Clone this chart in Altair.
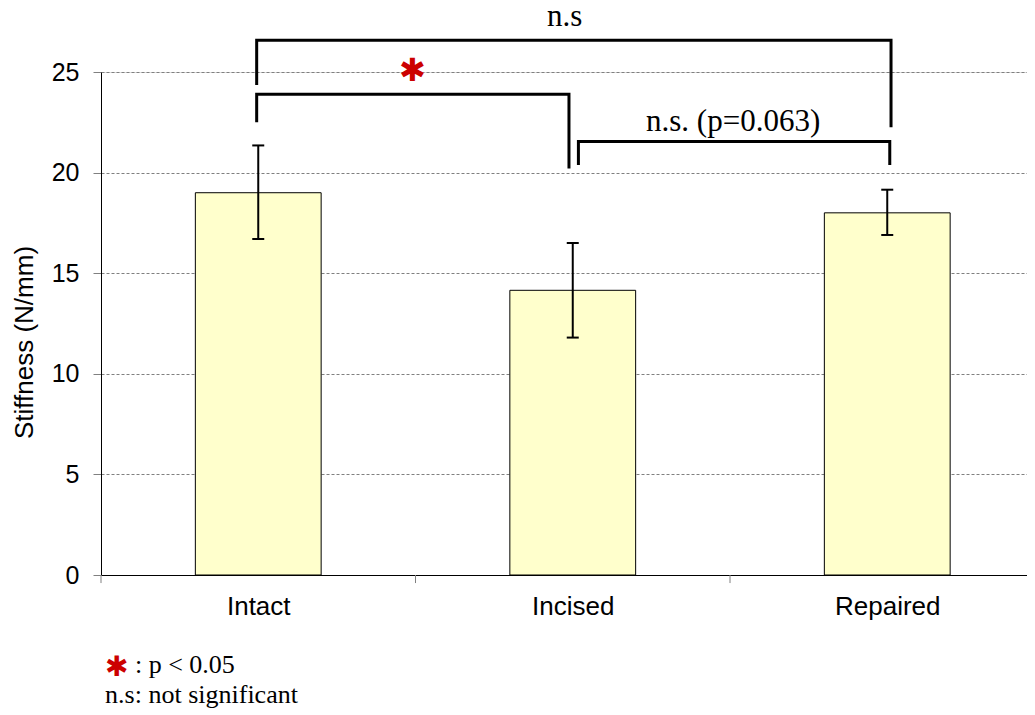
import altair as alt
import pandas as pd

# ---- data ----
groups = ["Intact", "Incised", "Repaired"]
group_pos = [0.5, 1.5, 2.5]
means = [19.0, 14.15, 18.0]
err_low = [16.7, 11.8, 16.9]
err_high = [21.35, 16.5, 19.15]

bar_half = 0.2

# brackets
br_ids = ["all", "all", "all", "all",
          "star", "star", "star", "star",
          "p063", "p063", "p063", "p063"]
br_order = [0, 1, 2, 3] * 3
br_x = [0.495, 0.495, 2.512, 2.512,
        0.495, 0.495, 1.488, 1.488,
        1.518, 1.518, 2.508, 2.508]
br_y = [24.35, 26.58, 26.58, 22.25,
        22.5, 23.9, 23.9, 20.2,
        20.38, 21.55, 21.55, 20.38]

ann_text = ["n.s", "n.s. (p=0.063)"]
ann_x = [1.474, 2.01]
ann_y = [27.3, 22.05]

star_x = [0.99]
star_y = [25.07]

foot_star_x = [0.05]
foot_star_y = [-4.6]
foot_text = [": p < 0.05", "n.s: not significant"]
foot_x = [0.108, 0.013]
foot_y = [-4.85, -6.38]

axis_tick_x = [0, 1, 2]

# ---- tables ----
bars = pd.DataFrame({"g": groups, "c": group_pos, "m": means,
                     "lo": err_low, "hi": err_high})
bars["x1"] = bars["c"] - bar_half
bars["x2"] = bars["c"] + bar_half
caps = pd.DataFrame({"c": group_pos * 2, "v": err_low + err_high})
brk = pd.DataFrame({"id": br_ids, "o": br_order, "x": br_x, "y": br_y})
ann = pd.DataFrame({"t": ann_text, "x": ann_x, "y": ann_y})
star = pd.DataFrame({"x": star_x, "y": star_y})
fstar = pd.DataFrame({"x": foot_star_x, "y": foot_star_y})
foot = pd.DataFrame({"t": foot_text, "x": foot_x, "y": foot_y})
ticks = pd.DataFrame({"x": axis_tick_x})

PLOT_W = 926
xs = alt.Scale(domain=[0, PLOT_W / 314.5], nice=False, zero=False)
ys = alt.Scale(domain=[0, 25], nice=False)

label_expr = "datum.value < 1 ? 'Intact' : (datum.value < 2 ? 'Incised' : 'Repaired')"
xaxis = alt.Axis(values=[0.5, 1.5, 2.5], labelExpr=label_expr, ticks=False, tickSize=0,
                 grid=False, domainColor="black", domainWidth=1, labelPadding=18,
                 labelFont="Liberation Sans", labelFontSize=26, labelColor="black",
                 title=None)
yaxis = alt.Axis(values=[0, 5, 10, 15, 20, 25], grid=True, gridDash=[3, 2],
                 gridColor="#808080", gridWidth=1, domainColor="black", domainWidth=1,
                 tickColor="#808080", tickSize=8, labelPadding=14,
                 labelFont="Liberation Sans", labelFontSize=25, labelColor="black",
                 title="Stiffness (N/mm)", titleFont="Liberation Sans",
                 titleFontSize=26, titleFontWeight="normal", titleColor="black",
                 titlePadding=14, titleY=270)


def X(f):
    return alt.X(f, type="quantitative", scale=xs, axis=xaxis)


def Y(f):
    return alt.Y(f, type="quantitative", scale=ys, axis=yaxis)


bar_layer = alt.Chart(bars).mark_bar(fill="#ffffcc", stroke="black", strokeWidth=1).encode(
    x=X("x1"), x2="x2", y=Y("m"), y2=alt.datum(0))

err_layer = alt.Chart(bars).mark_rule(color="black", strokeWidth=2).encode(
    x=X("c"), y=Y("lo"), y2="hi")

cap_layer = alt.Chart(caps).mark_tick(orient="horizontal", size=12, thickness=2,
                                      color="black", opacity=1).encode(
    x=X("c"), y=Y("v"))

brk_layer = alt.Chart(brk).mark_line(color="black", strokeWidth=3, strokeJoin="miter",
                                     strokeCap="butt").encode(
    x=X("x"), y=Y("y"), detail="id:N", order="o:Q")

ann_layer = alt.Chart(ann).mark_text(font="Liberation Serif", fontSize=31, color="black",
                                     baseline="alphabetic", align="center").encode(
    x=X("x"), y=Y("y"), text="t:N")

star_layer = alt.Chart(star).mark_text(text="✱", font="DejaVu Sans", fontSize=32,
                                       color="#cc0000", baseline="middle", align="center").encode(
    x=X("x"), y=Y("y"))

fstar_layer = alt.Chart(fstar).mark_text(text="✱", font="DejaVu Sans", fontSize=28,
                                         color="#cc0000", baseline="middle", align="center").encode(
    x=X("x"), y=Y("y"))

foot_layer = alt.Chart(foot).mark_text(font="Liberation Serif", fontSize=26, color="black",
                                       baseline="alphabetic", align="left").encode(
    x=X("x"), y=Y("y"), text="t:N")

tick_layer = alt.Chart(ticks).mark_rule(color="#808080", strokeWidth=1).encode(
    x=X("x"), y=alt.datum(0, type="quantitative"), y2=alt.datum(-0.4))

chart = alt.layer(tick_layer, bar_layer, err_layer, cap_layer, brk_layer, ann_layer,
                  star_layer, fstar_layer, foot_layer).properties(
    width=PLOT_W, height=503,
    autosize=alt.AutoSizeParams(type="none"),
    padding={"left": 93, "top": 64, "right": 0, "bottom": 135},
).configure_view(stroke=None).configure(background="white")

chart.save("out.html", embed_options={"renderer": "svg", "actions": False})
